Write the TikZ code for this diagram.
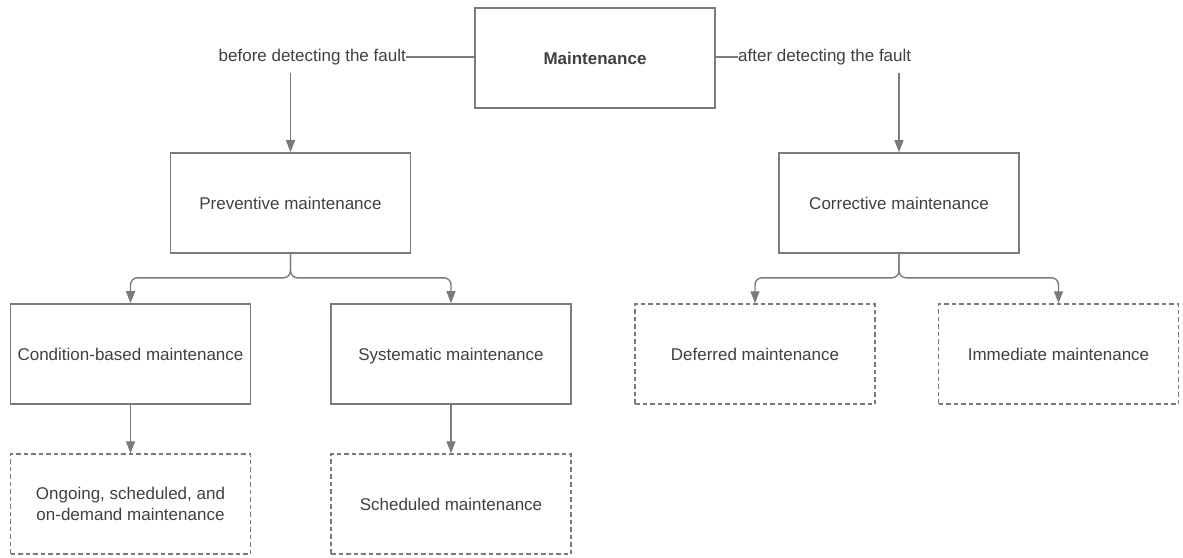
\documentclass[tikz,border=0pt]{standalone}
\usepackage{fontspec}
\setmainfont{Liberation Sans}
\usetikzlibrary{arrows.meta,calc}
\definecolor{linegray}{HTML}{7A7A7A}
\definecolor{txtgray}{HTML}{404040}
\begin{document}
\begin{tikzpicture}[x=1pt,y=-1pt,
  box/.style={draw=linegray,line width=1.6pt,minimum width=240pt,minimum height=100pt,
    inner sep=0pt,align=center,text=txtgray,font=\fontsize{17}{21}\selectfont},
  dbox/.style={box,dashed,dash pattern=on 4.5pt off 3pt,line width=1.5pt},
  lbl/.style={text=txtgray,font=\fontsize{17}{21}\selectfont,inner sep=0pt},
  conn/.style={draw=linegray,line width=1.4pt},
  arr/.style={conn,-{Triangle[length=12pt,width=9pt]}},
  br/.style={arr,rounded corners=7pt}]
\useasboundingbox (0,0) rectangle (1183,557);
\node[box] (M) at (595,58) {\textbf{Maintenance}};
\node[box] (P) at (290.5,203) {Preventive maintenance};
\node[box] (C) at (899,203) {Corrective maintenance};
\node[box] (CB) at (130.5,354) {Condition-based maintenance};
\node[box,text depth=0pt] (SY) at (451,354) {Systematic maintenance};
\node[dbox] (DE) at (755,354) {Deferred maintenance};
\node[dbox] (IM) at (1058.5,354) {Immediate maintenance};
\node[dbox] (OG) at (130.5,504) {Ongoing, scheduled, and\\on-demand maintenance};
\node[dbox] (SC) at (451,504) {Scheduled maintenance};
\node[lbl,anchor=east] (BL) at (406,57) {before detecting the fault};
\node[lbl,anchor=west] (AL) at (738,57) {after detecting the fault};
\draw[conn] (M.west |- BL.east) -- (BL.east);
\draw[conn] (M.east |- AL.west) -- (AL.west);
\coordinate (bs) at ($(P.north |- BL.south)+(0,8)$);
\coordinate (as) at ($(C.north |- AL.south)+(0,8)$);
\draw[arr] (bs) -- (P.north);
\draw[arr] (as) -- (C.north);
\coordinate (pj) at ($(P.south)+(0,24)$);
\coordinate (cj) at ($(C.south)+(0,24)$);
\draw[br] (P.south) |- (pj -| CB.north) -- (CB.north);
\draw[br] (P.south) |- (pj -| SY.north) -- (SY.north);
\draw[br] (C.south) |- (cj -| DE.north) -- (DE.north);
\draw[br] (C.south) |- (cj -| IM.north) -- (IM.north);
\draw[arr] (CB.south) -- (OG.north);
\draw[arr] (SY.south) -- (SC.north);
\end{tikzpicture}
\end{document}
